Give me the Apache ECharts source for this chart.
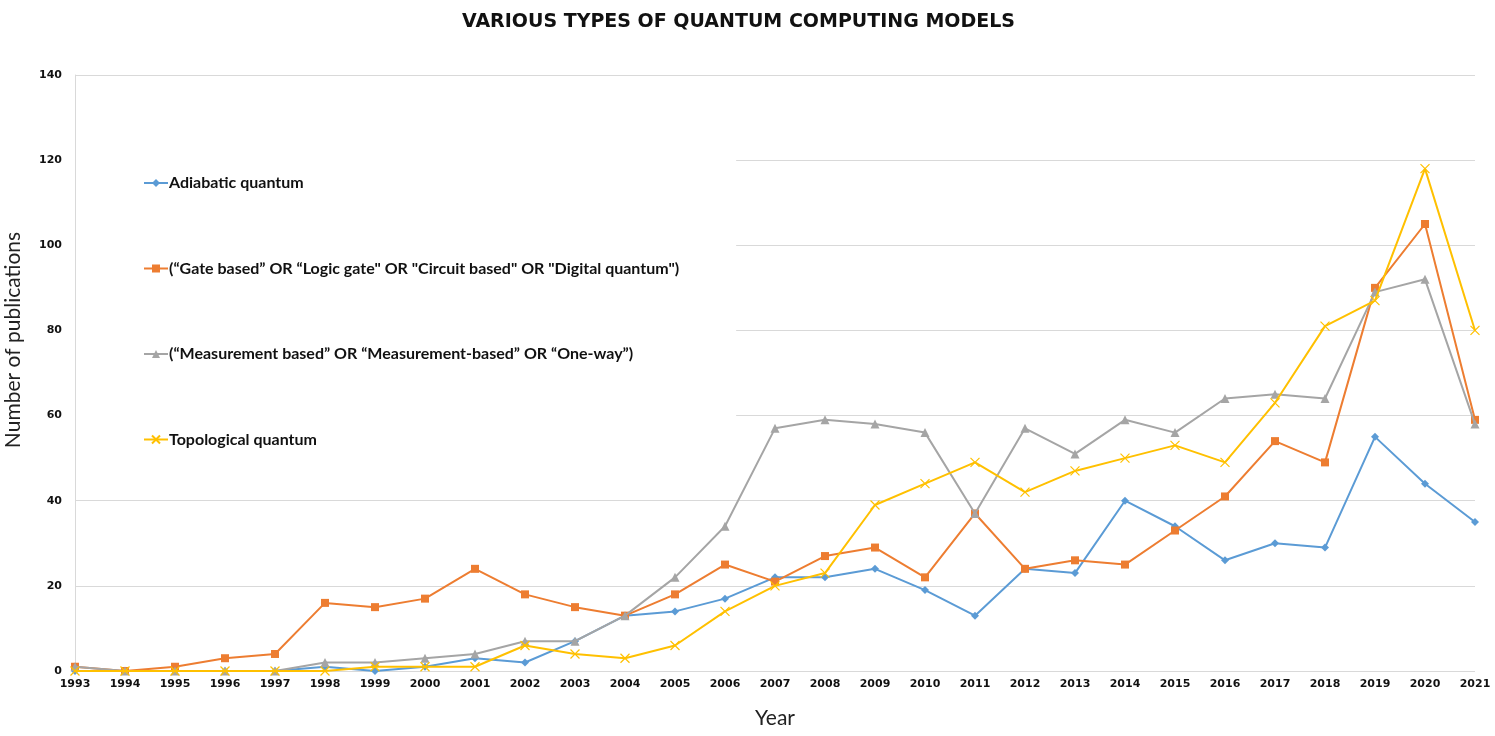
<!DOCTYPE html>
<html>
<head>
<meta charset="utf-8">
<script src="https://cdn.jsdelivr.net/npm/echarts@6/dist/echarts.min.js"></script>
<style>
  html, body { margin: 0; padding: 0; background: #fff; }
  #chart { width: 1495px; height: 736px; }
</style>
</head>
<body>
<div id="chart"></div>
<script>
var years = ['1993', '1994', '1995', '1996', '1997', '1998', '1999', '2000', '2001', '2002',
    '2003', '2004', '2005', '2006', '2007', '2008', '2009', '2010', '2011', '2012',
    '2013', '2014', '2015', '2016', '2017', '2018', '2019', '2020', '2021'];

var adiabatic = [0, 0, 0, 0, 0, 1, 0, 1, 3, 2, 7, 13, 14, 17, 22, 22, 24, 19, 13, 24, 23, 40, 34, 26, 30, 29, 55, 44, 35];
var gateBased = [1, 0, 1, 3, 4, 16, 15, 17, 24, 18, 15, 13, 18, 25, 21, 27, 29, 22, 37, 24, 26, 25, 33, 41, 54, 49, 90, 105, 59];
var measurementBased = [1, 0, 0, 0, 0, 2, 2, 3, 4, 7, 7, 13, 22, 34, 57, 59, 58, 56, 37, 57, 51, 59, 56, 64, 65, 64, 89, 92, 58];
var topological = [0, 0, 0, 0, 0, 0, 1, 1, 1, 6, 4, 3, 6, 14, 20, 23, 39, 44, 49, 42, 47, 50, 53, 49, 63, 81, 87, 118, 80];

var seriesNames = [
    'Adiabatic quantum',
    '(\u201cGate based\u201d OR \u201cLogic gate" OR "Circuit based" OR "Digital quantum")',
    '(\u201cMeasurement based\u201d OR \u201cMeasurement-based\u201d OR \u201cOne-way\u201d)',
    'Topological quantum'
];
var colors = ['#5B9BD5', '#ED7D31', '#A5A5A5', '#FFC000'];
var font = 'Lato, "Open Sans", sans-serif';
var wideFont = '"DejaVu Sans", Verdana, sans-serif';

var myChart = echarts.init(document.getElementById('chart'));

function makeSeries(i, data, symbol, size) {
    return {
        name: seriesNames[i],
        type: 'line',
        data: data,
        symbol: symbol,
        symbolSize: size,
        showAllSymbol: true,
        lineStyle: { color: colors[i], width: 2 },
        itemStyle: { color: colors[i] },
        z: 2 + i
    };
}

var crossSeries = makeSeries(3, topological, 'path://M0,0L10,10M10,0L0,10', 9);
crossSeries.itemStyle = { color: 'rgba(0,0,0,0)', borderColor: colors[3], borderWidth: 1.2 };

var option = {
    animation: false,
    color: colors,
    title: {
        text: 'VARIOUS TYPES OF QUANTUM COMPUTING MODELS',
        left: 457,
        top: 8,
        textStyle: {
            fontFamily: wideFont,
            fontSize: 19,
            fontWeight: 'bold',
            color: '#111'
        }
    },
    graphic: [
        {
            type: 'text',
            x: 3,
            y: 340,
            rotation: Math.PI / 2,
            style: {
                text: 'Number of publications',
                font: '21px ' + font,
                fill: '#222',
                align: 'center',
                verticalAlign: 'top'
            }
        }
    ],
    legend: {
        orient: 'vertical',
        left: 76,
        top: 150,
        padding: [25, 57, 24, 67],
        itemGap: 69.5,
        itemWidth: 24,
        itemHeight: 10,
        backgroundColor: '#fff',
        z: 10,
        textStyle: {
            fontFamily: font,
            fontSize: 16,
            fontWeight: 'bold',
            color: '#111',
            padding: [0, 0, 0, -4]
        },
        data: seriesNames
    },
    grid: {
        left: 75,
        right: 20,
        top: 75,
        bottom: 65,
        containLabel: false,
        outerBoundsMode: 'none'
    },
    xAxis: {
        type: 'category',
        data: years,
        boundaryGap: false,
        name: 'Year',
        nameLocation: 'middle',
        nameGap: 37,
        nameTextStyle: { fontFamily: font, fontSize: 21, color: '#222' },
        axisLine: { show: false },
        axisTick: { show: false },
        axisLabel: {
            fontFamily: wideFont,
            fontSize: 11,
            fontWeight: 'bold',
            color: '#111',
            margin: 8,
            interval: 0
        },
        splitLine: { show: false }
    },
    yAxis: {
        type: 'value',
        min: 0,
        max: 140,
        interval: 20,
        axisLine: { show: true, lineStyle: { color: '#d9d9d9', width: 1 } },
        axisTick: { show: false },
        axisLabel: {
            fontFamily: wideFont,
            fontSize: 11,
            fontWeight: 'bold',
            color: '#111',
            margin: 13
        },
        splitLine: { show: true, lineStyle: { color: '#d9d9d9', width: 1 } }
    },
    series: [
        makeSeries(0, adiabatic, 'diamond', 8),
        makeSeries(1, gateBased, 'rect', 8),
        makeSeries(2, measurementBased, 'triangle', 9),
        crossSeries
    ]
};

myChart.setOption(option);
</script>
</body>
</html>
